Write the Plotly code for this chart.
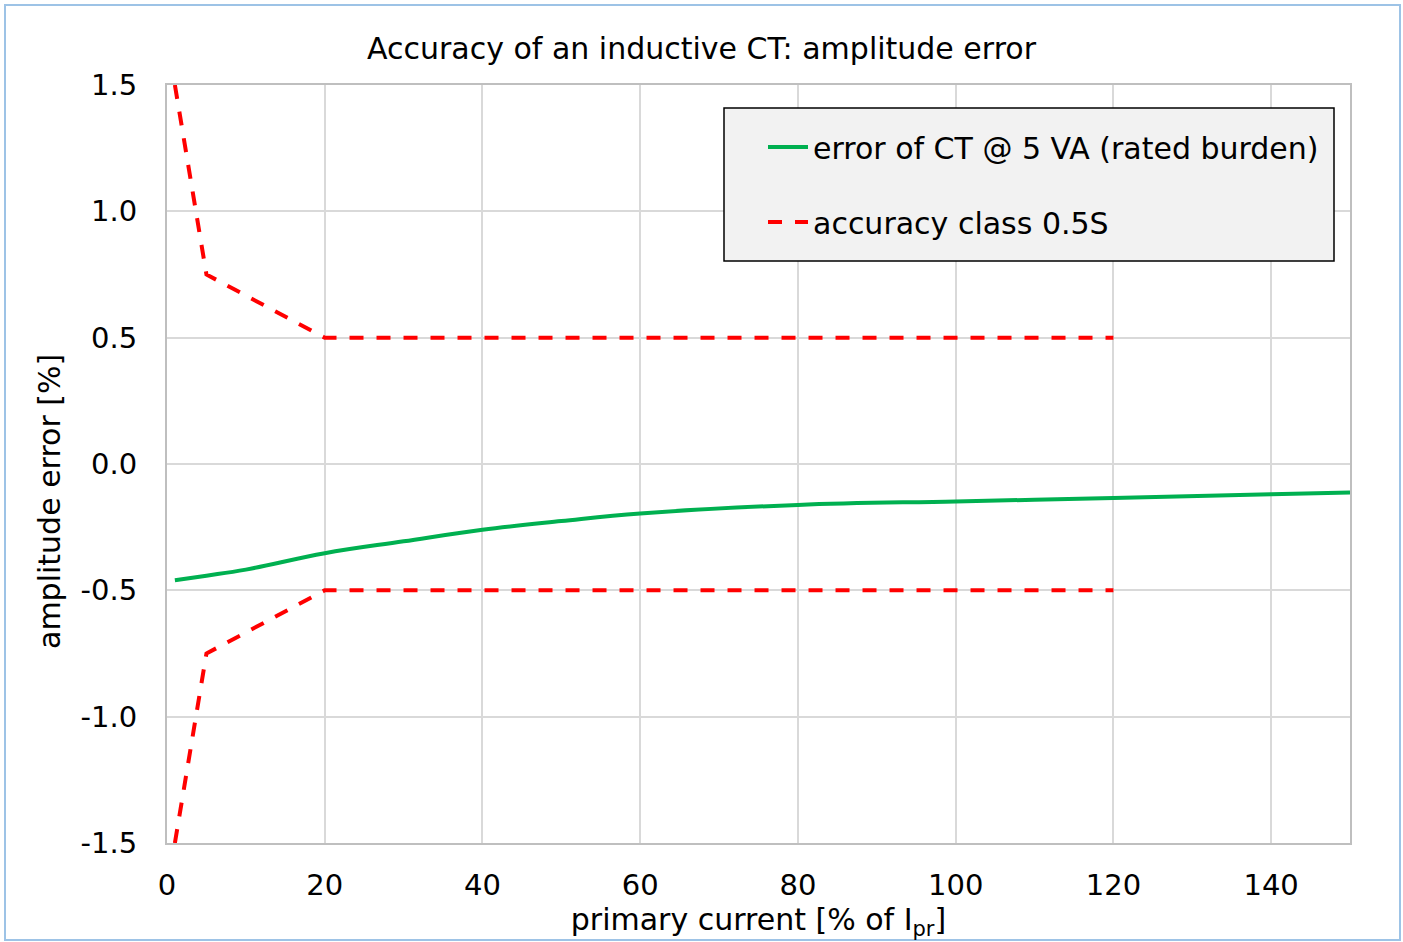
import plotly.graph_objects as go

# data
ct_x = [1, 5, 10, 20, 30, 40, 50, 60, 80, 100, 120, 140, 150]
ct_err = [-0.46, -0.442, -0.418, -0.353, -0.306, -0.26, -0.226, -0.196, -0.162, -0.148, -0.135, -0.12, -0.113]
lim_x = [1, 5, 20, 100, 120]
lim_upper = [1.5, 0.75, 0.5, 0.5, 0.5]
lim_lower = [-1.5, -0.75, -0.5, -0.5, -0.5]
y_ticks = [-1.5, -1.0, -0.5, 0.0, 0.5, 1.0, 1.5]
y_ticktext = ["-1.5", "-1.0", "-0.5", "0.0", "0.5", "1.0", "1.5"]
x_ticks = [0, 20, 40, 60, 80, 100, 120, 140]

FONT = "DejaVu Sans, Verdana, sans-serif"
W, H = 1403, 942
L, R, T, B = 167, 53, 85, 99
pw, ph = W - L - R, H - T - B

fig = go.Figure()
fig.add_trace(go.Scatter(
    x=ct_x, y=ct_err, mode="lines", name="error of CT @ 5 VA (rated burden)",
    line=dict(color="#00b050", width=4, shape="spline", smoothing=1.1),
    legendgroup="ct"))
fig.add_trace(go.Scatter(
    x=lim_x, y=lim_upper, mode="lines", name="accuracy class 0.5S",
    line=dict(color="#ff0000", width=4, dash="14px,13px"),
    legendgroup="lim"))
fig.add_trace(go.Scatter(
    x=lim_x, y=lim_lower, mode="lines", name="accuracy class 0.5S",
    line=dict(color="#ff0000", width=4, dash="14px,13px"),
    legendgroup="lim", showlegend=False))

def px_x(p):
    return (p - L) / pw

def px_y(p):
    return (H - B - p) / ph

fig.update_layout(
    width=W, height=H,
    margin=dict(l=L, r=R, t=T, b=B),
    paper_bgcolor="white", plot_bgcolor="white",
    font=dict(family=FONT, size=29, color="black"),
    title=dict(text="Accuracy of an inductive CT: amplitude error",
               x=0.5, xref="container", xanchor="center",
               y=1 - 48 / H, yref="container", yanchor="middle",
               font=dict(size=30)),
    showlegend=True,
    legend=dict(x=px_x(763), y=px_y(121), xanchor="left", yanchor="top",
                bgcolor="rgba(0,0,0,0)", borderwidth=0,
                font=dict(size=30), tracegroupgap=33, itemwidth=40),
    shapes=[
        dict(type="rect", xref="paper", yref="paper",
             x0=px_x(5), x1=px_x(1400), y0=px_y(940), y1=px_y(5),
             line=dict(color="#9dc3e6", width=2), layer="above"),
        dict(type="rect", xref="paper", yref="paper",
             x0=px_x(724), x1=px_x(1334), y0=px_y(261), y1=px_y(108),
             fillcolor="#f2f2f2", line=dict(color="black", width=1.5), layer="above"),
    ],
    annotations=[
        dict(text="amplitude error [%]", textangle=-90, xref="paper", yref="paper",
             x=px_x(50), y=px_y(502), xanchor="center", yanchor="middle",
             showarrow=False, font=dict(size=30)),
    ],
)
fig.update_xaxes(
    range=[0, 150], tickvals=x_ticks, showgrid=True, gridcolor="#d9d9d9", gridwidth=1.5,
    showline=True, linecolor="#bfbfbf", linewidth=2, mirror=True, zeroline=False,
    ticks="", ticklabelstandoff=15,
    title=dict(text="primary current [% of I<sub>pr</sub>]", standoff=6, font=dict(size=30)))
fig.update_yaxes(
    range=[-1.5, 1.5], tickvals=y_ticks, ticktext=y_ticktext, showgrid=True,
    gridcolor="#d9d9d9", gridwidth=1.5,
    showline=True, linecolor="#bfbfbf", linewidth=2, mirror=True, zeroline=False,
    ticks="", ticklabelstandoff=22)

fig.write_html("out.html", config={"displayModeBar": False},
               post_script="document.body.style.margin='0';")
